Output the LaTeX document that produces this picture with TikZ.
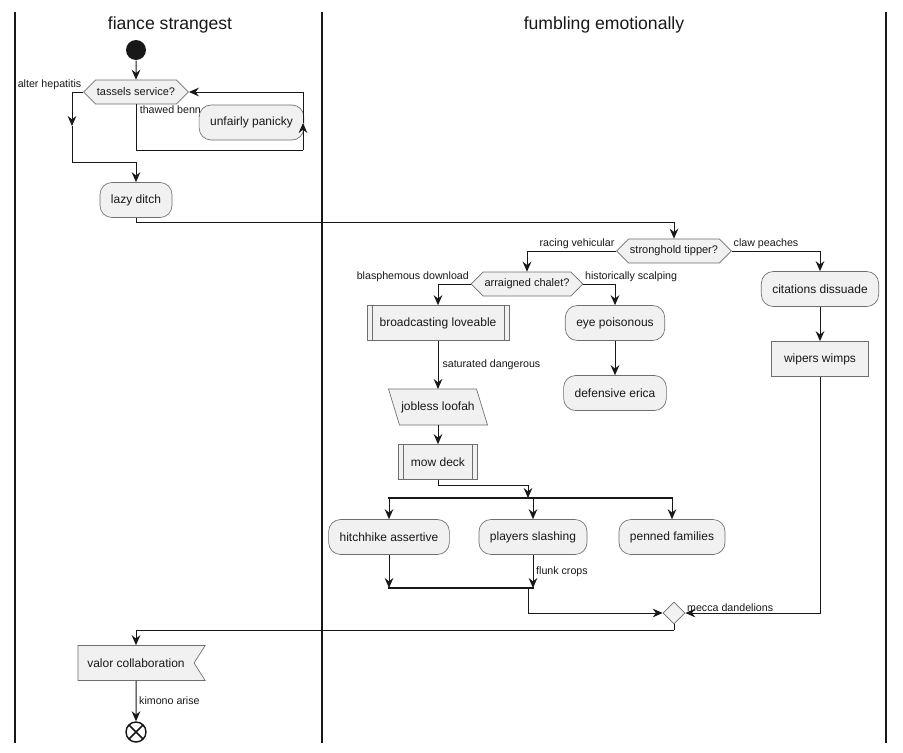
\documentclass[tikz,border=0pt]{standalone}
\usepackage{fontspec}
\setmainfont{Liberation Sans}
\usetikzlibrary{arrows.meta,shapes.geometric,shapes.symbols,backgrounds,positioning}

\definecolor{boxfill}{HTML}{F1F1F1}
\definecolor{boxline}{HTML}{6E6E6E}
\definecolor{ink}{HTML}{181818}

\begin{document}
\begin{tikzpicture}[x=0.75pt, y=-0.75pt, line width=0.75pt, color=ink,
    >={Stealth[length=7.5pt,width=6.5pt,inset=2.5pt]},
    act/.style={rectangle, rounded corners=9pt, draw=boxline, fill=boxfill, line width=0.5pt,
      minimum height=26.25pt, inner xsep=8.25pt, font=\fontsize{9}{11}\selectfont},
    plainact/.style={act, rounded corners=0pt, inner xsep=9.4pt},
    subact/.style={plainact, path picture={
        \draw[draw=boxline, line width=0.5pt]
          ([xshift=3.75pt]path picture bounding box.north west) -- ([xshift=3.75pt]path picture bounding box.south west)
          ([xshift=-3.75pt]path picture bounding box.north east) -- ([xshift=-3.75pt]path picture bounding box.south east);}},
    slanted/.style={rectangle, minimum height=26.25pt, minimum width=65.25pt, inner xsep=0pt,
      font=\fontsize{9}{11}\selectfont},
    receive/.style={plainact, shape=signal, signal from=east, signal to=nowhere, signal pointer angle=115, inner xsep=7pt},
    decide/.style={shape=signal, signal to=east and west, signal pointer angle=90, draw=boxline, fill=boxfill,
      line width=0.5pt, minimum height=18pt, inner xsep=1pt, inner ysep=0pt, font=\fontsize{8.25}{10}\selectfont},
    mergebox/.style={diamond, draw=boxline, fill=boxfill, line width=0.5pt, minimum size=16.5pt, inner sep=0pt},
    startdot/.style={circle, fill=ink, minimum size=15pt, inner sep=0pt},
    enddot/.style={circle, draw=ink, line width=1.1pt, minimum size=15pt, inner sep=0pt, path picture={
        \draw[line width=1.1pt] (path picture bounding box.north west) -- (path picture bounding box.south east)
          (path picture bounding box.north east) -- (path picture bounding box.south west);}},
    lbl/.style={font=\fontsize{8}{10}\selectfont, inner sep=1pt},
    lanetitle/.style={font=\fontsize{13.2}{16}\selectfont},
    lane/.style={line width=1.2pt},
    bar/.style={line width=1.5pt}]
  \useasboundingbox (0,0) rectangle (903,753);

  % Lanes
  \draw[lane] (15,12) -- (15,743);
  \draw[lane] (322,12) -- (322,743);
  \draw[lane] (886,12) -- (886,743);
  \node[lanetitle] (laneA) at (170,25) {fiance strangest};
  \node[lanetitle] (laneB) at (604,25) {fumbling emotionally};

  % Left lane
  \node[startdot] (start) at (136,50) {};
  \node[decide] (tassels) at (136,92) {tassels service?};
  \node[lbl, anchor=south east] (alter) at (tassels.west) {alter hepatitis};
  \node[lbl, anchor=north west] (thawed) at ([xshift=1.5pt]tassels.south) {thawed benn};
  \node[act] (panicky) at (251.5,122.5) {unfairly panicky};
  \node[act] (lazy) at (136,200) {lazy ditch};

  \coordinate (altertip) at (72,126);
  \coordinate (alterend) at (72,162);
  \coordinate (loopcorner) at (303,150);
  \coordinate (looptip) at (303,123);

  \draw[->] (start) -- (tassels);
  \draw[->] (tassels.west) -| (altertip);
  \draw[->] (altertip) -- (alterend) -| (lazy.north);
  \draw (tassels.south) |- (loopcorner);
  \draw[->] (loopcorner) -- (looptip);
  \draw[->] (looptip) |- (tassels.east);

  % Right lane
  \node[decide] (stronghold) at (674,251) {stronghold tipper?};
  \node[decide] (chalet) at (527,284) {arraigned chalet?};
  \node[subact] (broadcast) at (438,323) {broadcasting loveable};
  \node[act] (eye) at (615,323) {eye poisonous};
  \node[act] (defensive) at (615,393) {defensive erica};
  \node[slanted] (jobless) at (438,407) {jobless loofah};
  \node[subact] (mow) at (438,462) {mow deck};
  \node[act] (citations) at (820,289) {citations dissuade};
  \node[plainact] (wipers) at (820,359) {wipers wimps};

  \begin{scope}[on background layer]
    \draw[draw=boxline, fill=boxfill, line width=0.5pt]
      ([xshift=-4.125pt]jobless.north west) -- ([xshift=-4.125pt]jobless.north east)
      -- ([xshift=4.125pt]jobless.south east) -- ([xshift=4.125pt]jobless.south west) -- cycle;
  \end{scope}

  \coordinate (ditchturn) at (136,222);
  \draw[->] (lazy.south) -- (ditchturn) -| (stronghold.north);
  \draw[->] (stronghold.west) -| (chalet.north) node[lbl, pos=0, anchor=south east] {racing vehicular};
  \draw[->] (stronghold.east) -| (citations.north) node[lbl, pos=0, anchor=south west] {claw peaches};
  \draw[->] (chalet.west) -| (broadcast.north) node[lbl, pos=0, anchor=south east] {blasphemous download};
  \draw[->] (chalet.east) -| (eye.north) node[lbl, pos=0, anchor=south west] {historically scalping};
  \draw[->] (broadcast) -- (jobless) node[lbl, midway, right, xshift=2pt] {saturated dangerous};
  \draw[->] (jobless) -- (mow);
  \draw[->] (eye) -- (defensive);
  \draw[->] (citations) -- (wipers);

  % Fork and join
  \coordinate (mowturn) at (438,485);
  \coordinate (forkin) at (528,498);
  \coordinate (forkL) at (388,498);
  \coordinate (forkR) at (673,498);
  \node[act] (hitch) at (389,537) {hitchhike assertive};
  \node[act] (players) at (533,537) {players slashing};
  \node[act] (penned) at (672,537) {penned families};

  \draw[->] (mow.south) -- (mowturn) -| (forkin);
  \draw[bar] (forkL) -- (forkR);
  \draw[->] (forkL -| hitch) -- (hitch);
  \draw[->] (forkL -| players) -- (players);
  \draw[->] (forkL -| penned) -- (penned);

  \coordinate (joinL) at (388,588);
  \coordinate (joinR) at (534,588);
  \coordinate (joinout) at (528,588);
  \draw[->] (hitch) -- (hitch |- joinL);
  \draw[->] (players) -- (players |- joinL) node[lbl, midway, right, xshift=1pt] {flunk crops};
  \draw[bar] (joinL) -- (joinR);

  \node[mergebox] (mergept) at (674,613) {};
  \draw[->] (joinout) |- (mergept.west);
  \draw[->] (wipers.south) |- (mergept.east) node[lbl, pos=1, anchor=south west] {mecca dandelions};

  % Back to the left lane
  \node[receive] (valor) at (136,663) {valor collaboration};
  \node[enddot] (finish) at (136,732) {};
  \coordinate (mergeturn) at (674,630);
  \draw (mergept.south) -- (mergeturn);
  \draw[->] (mergeturn) -| (valor.north);
  \draw[->] (valor) -- (finish) node[lbl, midway, right, xshift=1pt] {kimono arise};
\end{tikzpicture}
\end{document}
